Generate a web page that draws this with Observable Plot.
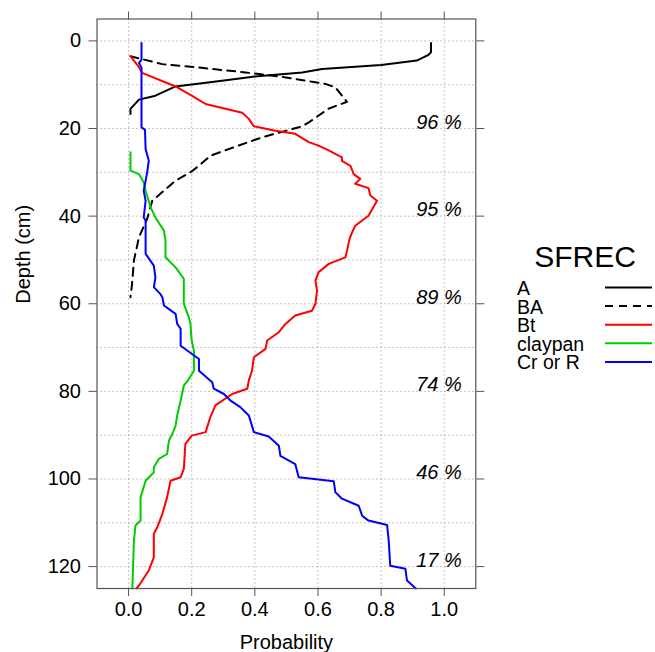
<!DOCTYPE html>
<html>
<head>
<meta charset="utf-8">
<script src="https://cdn.jsdelivr.net/npm/d3@7"></script>
<script src="https://cdn.jsdelivr.net/npm/@observablehq/plot@0.6"></script>
<style>
  body { margin: 0; background: #fff; }
  #chart { width: 655px; height: 652px; }
</style>
</head>
<body>
<div id="chart"></div>
<script>
// ---- Data ----
const seriesNames = ["A", "BA", "Bt", "claypan", "Cr or R"];

const aDepth = [0.5, 2.6, 3.2, 4.5, 5.5, 6.4, 7.2, 8.1, 9.1, 10.4, 12.5, 13.4, 15.5, 16.7];
const aProb  = [0.958, 0.958, 0.95, 0.913, 0.80, 0.613, 0.55, 0.40, 0.296, 0.149, 0.085, 0.033, 0.006, 0.006];

const baDepth = [3.5, 5.3, 6.0, 7.2, 8.1, 9.8, 10.6, 12.5, 13.9, 15.5, 18.6, 19.5, 22.0, 24.7, 26.2, 28.5, 30.0, 31.9, 34.5, 36.5, 40.6, 44.8, 50.1, 55.5, 58.5];
const baProb  = [0.006, 0.107, 0.212, 0.37, 0.476, 0.623, 0.655, 0.676, 0.692, 0.633, 0.571, 0.55, 0.423, 0.317, 0.26, 0.223, 0.196, 0.149, 0.107, 0.075, 0.059, 0.033, 0.017, 0.011, 0.006];

const btDepth = [3.5, 6.0, 7.3, 10.4, 12.5, 14.4, 16.4, 17.8, 19.5, 20.5, 21.2, 23.1, 23.9, 25.0, 26.6, 27.4, 28.5, 30.4, 31.5, 32.6, 33.6, 35.3, 36.5, 39.9, 42.2, 43.7, 45.2, 47.9, 49.4, 50.9, 52.8, 54.7, 57.0, 60.0, 61.6, 62.7, 64.6, 66.5, 68.4, 70.3, 72.2, 75.3, 77.5, 79.4, 80.6, 83.2, 85.9, 89.3, 90.1, 92.0, 97.7, 99.6, 100.4, 104.2, 108.0, 111.0, 112.5, 117.9, 120.9, 124.3, 125];
const btProb  = [0.006, 0.033, 0.043, 0.149, 0.2, 0.244, 0.36, 0.381, 0.397, 0.465, 0.528, 0.571, 0.602, 0.634, 0.676, 0.676, 0.703, 0.713, 0.734, 0.718, 0.76, 0.766, 0.787, 0.76, 0.718, 0.708, 0.70, 0.692, 0.687, 0.634, 0.602, 0.592, 0.597, 0.592, 0.581, 0.528, 0.497, 0.476, 0.439, 0.434, 0.397, 0.391, 0.381, 0.376, 0.328, 0.275, 0.259, 0.244, 0.2, 0.18, 0.175, 0.165, 0.133, 0.122, 0.107, 0.091, 0.08, 0.08, 0.064, 0.033, 0.025];

const cpDepth = [25.4, 29.6, 30.4, 32.3, 34.2, 38.0, 40.3, 43.3, 45.6, 49.4, 51.7, 54.3, 60.0, 63.1, 64.6, 68.4, 70.7, 75.3, 77.2, 78.7, 82.1, 85.5, 87.8, 89.5, 91.2, 94.3, 95.4, 97.3, 98.5, 100.4, 104.2, 109.5, 110.6, 114.0, 125];
const cpProb  = [0.006, 0.006, 0.033, 0.048, 0.054, 0.07, 0.085, 0.112, 0.117, 0.117, 0.149, 0.175, 0.175, 0.191, 0.196, 0.2, 0.207, 0.207, 0.191, 0.175, 0.165, 0.154, 0.149, 0.14, 0.128, 0.122, 0.096, 0.08, 0.08, 0.054, 0.038, 0.038, 0.022, 0.017, 0.012];

const crDepth = [0.5, 4.3, 5.0, 6.1, 19.7, 20.3, 24.7, 27.3, 30.0, 34.2, 36.5, 40.3, 41.0, 48.6, 51.3, 54.0, 56.2, 57.8, 58.5, 60.4, 62.3, 64.6, 65.7, 69.6, 71.4, 72.6, 75.3, 77.9, 79.4, 80.6, 82.1, 83.6, 85.5, 89.3, 90.3, 92.4, 94.7, 96.6, 99.6, 100.5, 103.0, 104.5, 106.1, 108.4, 109.5, 110.5, 114.0, 119.8, 120.5, 123.2, 125];
const crProb  = [0.041, 0.041, 0.033, 0.041, 0.041, 0.052, 0.054, 0.064, 0.059, 0.048, 0.054, 0.048, 0.054, 0.054, 0.08, 0.085, 0.08, 0.101, 0.107, 0.112, 0.149, 0.154, 0.165, 0.165, 0.2, 0.223, 0.223, 0.265, 0.27, 0.302, 0.323, 0.354, 0.381, 0.397, 0.444, 0.476, 0.481, 0.528, 0.539, 0.65, 0.655, 0.676, 0.729, 0.74, 0.76, 0.819, 0.824, 0.829, 0.877, 0.882, 0.91];

const pctDepths = [20, 40, 60, 80, 100, 120];
const pctLabels = ["96 %", "95 %", "89 %", "74 %", "46 %", "17 %"];

const xTicks = [0, 0.2, 0.4, 0.6, 0.8, 1.0];
const yTicks = [0, 20, 40, 60, 80, 100, 120];
const yGrid = [0, 10, 20, 30, 40, 50, 60, 70, 80, 90, 100, 110, 120];

const colors = {"A": "#000000", "BA": "#000000", "Bt": "#ff0000", "claypan": "#00cd00", "Cr or R": "#0000ff"};
const dashes = {"A": null, "BA": "8,6", "Bt": null, "claypan": null, "Cr or R": null};

// ---- Build table ----
const src = [[aDepth, aProb], [baDepth, baProb], [btDepth, btProb], [cpDepth, cpProb], [crDepth, crProb]];
const rows = [];
src.forEach(([ds, ps], i) => ds.forEach((d, j) => rows.push({series: seriesNames[i], depth: d, prob: ps[j]})));

const font = "'Liberation Sans', Arial, Helvetica, sans-serif";
const frameCol = "#555555";
const gridCol = "#8c8c8c";

const lineMarks = seriesNames.map(s => Plot.line(rows.filter(r => r.series === s), {
  x: "prob", y: "depth", stroke: colors[s], strokeWidth: 2,
  strokeDasharray: dashes[s] || undefined, curve: "linear"
}));

const chart = Plot.plot({
  width: 655,
  height: 652,
  marginLeft: 96.5,
  marginRight: 179.7,
  marginTop: 18.5,
  marginBottom: 64,
  style: {fontFamily: font, fontSize: "20px", background: "#fff", color: "#000"},
  x: {domain: [-0.1, 1.1]},
  y: {domain: [-5, 125], reverse: true},
  marks: [
    Plot.ruleX(xTicks, {x: d => d, stroke: gridCol, strokeDasharray: "1,3", strokeWidth: 1}),
    Plot.ruleY(yGrid, {y: d => d, stroke: gridCol, strokeDasharray: "1,3", strokeWidth: 1}),
    ...lineMarks,
    Plot.text(pctDepths, {y: d => d, text: (d, i) => pctLabels[i], frameAnchor: "right", textAnchor: "end",
      dx: -14, lineAnchor: "bottom", fontStyle: "italic", fontSize: 20, fill: "#000"}),
    Plot.axisX(xTicks, {anchor: "bottom", tickSize: 8, tickPadding: 5, tickFormat: d3.format(".1f"),
      fontSize: 20, label: null, stroke: frameCol, fill: "#000"}),
    Plot.axisX(xTicks, {anchor: "top", tickSize: 8, tickFormat: () => "", label: null, stroke: frameCol}),
    Plot.axisY(yTicks, {anchor: "left", tickSize: 8, tickPadding: 8, fontSize: 20, label: null, stroke: frameCol, fill: "#000"}),
    Plot.axisY(yTicks, {anchor: "right", tickSize: 8, tickFormat: () => "", label: null, stroke: frameCol}),
    Plot.frame({stroke: frameCol, strokeWidth: 1.2}),
    Plot.text(["Probability"], {frameAnchor: "bottom", text: d => d, lineAnchor: "bottom", dy: 60, fontSize: 20, fill: "#000"}),
    Plot.text(["Depth (cm)"], {frameAnchor: "left", text: d => d, rotate: -90, dx: -73.5, fontSize: 20, fill: "#000"})
  ]
});

document.getElementById("chart").appendChild(chart);

// ---- Legend (drawn into the same SVG, to the right of the panel) ----
const svg = d3.select(chart);
const lg = svg.append("g").attr("font-family", font).attr("text-anchor", "start");
lg.append("text").attr("x", 585).attr("y", 267).attr("text-anchor", "middle")
  .attr("font-size", 30).attr("fill", "#000").text("SFREC");
seriesNames.forEach((s, i) => {
  const yb = 295 + i * 18.6;
  lg.append("text").attr("x", 517).attr("y", yb).attr("text-anchor", "start")
    .attr("font-size", 19.5).attr("fill", "#000").text(s);
  lg.append("line").attr("x1", 605).attr("x2", 652).attr("y1", yb - 7.5).attr("y2", yb - 7.5)
    .attr("stroke", colors[s]).attr("stroke-width", 2)
    .attr("stroke-dasharray", dashes[s] || null);
});
</script>
</body>
</html>
